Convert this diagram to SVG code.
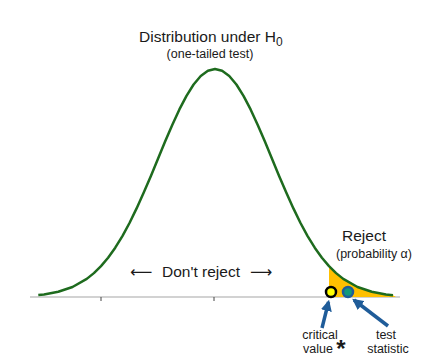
<svg xmlns="http://www.w3.org/2000/svg" width="438" height="364" viewBox="0 0 438 364">
<style>
text{font-family:"Liberation Sans",Arial,sans-serif;fill:#1a1a1a}
.t1{font-size:15.5px}
.t2{font-size:12.5px}
.arr{stroke:#1f5c99;stroke-width:3.5;fill:none;marker-end:url(#ah)}
</style>
<defs>
<marker id="ah" viewBox="0 0 10 10" refX="8" refY="5" markerWidth="3.2" markerHeight="3.2" orient="auto" markerUnits="strokeWidth">
<path d="M0,0 L10,5 L0,10 z" fill="#1f5c99"/>
</marker>
</defs>
<rect width="438" height="364" fill="#ffffff"/>
<g id="axis">
<line x1="30" y1="297" x2="400" y2="297" stroke="#a6a6a6" stroke-width="1.2"/>
<line x1="101" y1="297" x2="101" y2="301" stroke="#444" stroke-width="1"/>
<line x1="214" y1="297" x2="214" y2="301" stroke="#444" stroke-width="1"/>
</g>
<g id="reject-area">
<path d="M329,266.1 L343.25,278.9 L357.5,287 L371.75,291.8 L386,294.5 L393,295.3 L396,297 L329,297 Z" fill="#ffc000"/>
</g>
<g id="curve">
<polyline fill="none" stroke="#1e6b1e" stroke-width="2.5" stroke-linejoin="round" points="38.3,295.1 44,294.5 58.25,291.8 72.5,287 86.75,278.9 93.9,273.1 101,266.1 108.1,257.7 115.25,247.7 122.4,236.1 129.5,223 136.6,208.4 143.75,192.6 150.9,175.9 158,158.7 165.1,141.5 172.25,124.9 179.4,109.4 186.5,95.8 193.6,84.5 200.75,76 207.9,70.8 215,69 222.1,70.8 229.25,76 236.4,84.5 243.5,95.8 250.6,109.4 257.75,124.9 264.9,141.5 272,158.7 279.1,175.9 286.25,192.6 293.4,208.4 300.5,223 307.6,236.1 314.75,247.7 321.9,257.7 329,266.1 336.1,273.1 343.25,278.9 357.5,287 371.75,291.8 386,294.5 393,295.3"/>
</g>
<g id="critical-value">
<circle cx="331" cy="292" r="5" fill="#ffff00" stroke="#000" stroke-width="2.5"/>
<text class="t2" x="320" y="339" text-anchor="middle">critical</text>
<text class="t2" x="318" y="353" text-anchor="middle">value</text>
<text x="341" y="357" text-anchor="middle" style="font-size:24px;font-weight:bold">*</text>
</g>
<g id="test-statistic">
<circle cx="348" cy="292" r="5" fill="#12997a" stroke="#1f5c99" stroke-width="2.5"/>
<text class="t2" x="386" y="339" text-anchor="middle">test</text>
<text class="t2" x="388" y="353" text-anchor="middle">statistic</text>
</g>
<g id="connectors">
<line class="arr" x1="322" y1="328" x2="328.5" y2="302"/>
<line class="arr" x1="388" y1="326" x2="354" y2="300"/>
</g>
<g id="title">
<text class="t1" x="139" y="42">Distribution under H<tspan dy="4" style="font-size:12px">0</tspan></text>
<text class="t2" x="210" y="58" text-anchor="middle">(one-tailed test)</text>
</g>
<g id="dont-reject">
<text x="201" y="277" text-anchor="middle" style="font-size:15.5px">Don't reject</text>
<text x="141" y="277" text-anchor="middle" style="font-size:15.5px;font-family:'DejaVu Sans',sans-serif">⟵</text>
<text x="261" y="277" text-anchor="middle" style="font-size:15.5px;font-family:'DejaVu Sans',sans-serif">⟶</text>
</g>
<g id="reject">
<text class="t1" x="342" y="241">Reject</text>
<text class="t2" x="336" y="258">(probability α)</text>
</g>
</svg>
